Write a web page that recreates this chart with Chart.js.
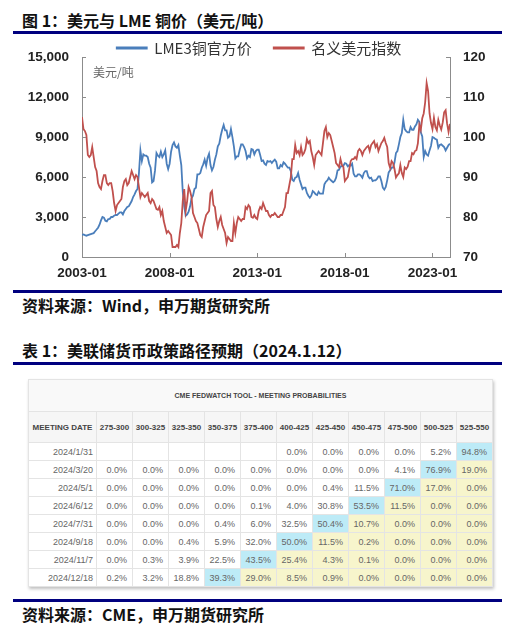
<!DOCTYPE html>
<html>
<head>
<meta charset="utf-8">
<script src="https://cdn.jsdelivr.net/npm/chart.js@4.4.1/dist/chart.umd.min.js"></script>
<style>
body{margin:0;width:518px;height:632px;background:#fff;position:relative;overflow:hidden;font-family:"Noto Sans CJK SC",sans-serif;}
.cap{position:absolute;left:22px;font-size:16px;line-height:16px;font-weight:700;color:#111;white-space:nowrap;}
.bar{position:absolute;left:13px;width:489px;height:3px;background:#00007f;}
#chartBox{position:absolute;left:0;top:36px;width:518px;height:250px;}
.unit{position:absolute;left:93px;top:66px;font-size:12px;line-height:12px;color:#666;}
#fw{position:absolute;left:28px;top:379px;width:464px;border-collapse:collapse;table-layout:fixed;font-family:"Liberation Sans",Arial,sans-serif;box-shadow:1px 2px 3px rgba(0,0,0,0.25);background:#fff;}
#fw td{border:1px solid #e4e4e4;padding:0 5px 0 0;text-align:right;font-size:9px;color:#666;height:17px;white-space:nowrap;overflow:hidden;}
#fw tr.t td{height:31px;text-align:center;font-weight:bold;font-size:7px;color:#444;background:#f9f9f9;padding:0;}
#fw tr.h td{height:30px;text-align:center;font-weight:bold;font-size:8px;color:#444;background:#f6f6f6;padding:0;}
#fw td.hi{background:#bdebf7;}
#fw td.cur{background:#f7f5cc;}
</style>
</head>
<body>
<div class="cap" style="top:12px">图 1：美元与 LME 铜价（美元/吨）</div>
<div class="bar" style="top:31px"></div>
<div id="chartBox"><canvas id="c" width="518" height="250"></canvas></div>
<div class="unit">美元/吨</div>
<div class="bar" style="top:290px"></div>
<div class="cap" style="top:297px">资料来源：Wind，申万期货研究所</div>
<div class="cap" style="top:342px">表 1：美联储货币政策路径预期（2024.1.12）</div>
<div class="bar" style="top:362px"></div>
<table id="fw"></table>
<div class="bar" style="top:599px"></div>
<div class="cap" style="top:606px">资料来源：CME，申万期货研究所</div>

<script>
// 月度数据，2003-01 起
const copper = [
  1650,1690,1640,1600,1640,1680,1720,1760,1790,1930,2060,2200,
  2420,2750,3000,2950,2720,2680,2850,2860,3010,3000,3100,3150,
  3150,3250,3350,3350,3200,3450,3600,3750,3800,4000,4200,4500,
  4700,4950,5100,6300,8000,7200,7700,7600,7600,7500,7000,6700,
  5600,5700,6500,7800,7600,7500,7900,7500,7700,8000,7000,6600,
  7000,7900,8400,8600,8300,8200,8400,7600,6900,4900,3800,3100,
  3200,3400,3800,4400,4600,5100,5200,6200,6200,6300,6700,6950,
  7300,6850,7450,7750,6900,6500,6750,7300,7700,8300,8500,9100,
  9550,9900,9500,9500,8950,9050,9600,9000,8300,7400,7550,7550,
  8050,8450,8450,8250,7950,7400,7600,7500,8100,8050,7700,7950,
  8050,8050,7650,7200,7250,7000,6900,7200,7150,7200,7050,7200,
  7300,7150,6650,6650,6900,6800,7100,7000,6850,6700,6700,6450,
  5800,5700,5950,6000,6300,5800,5450,5100,5200,5200,4800,4600,
  4450,4600,4950,4850,4700,4650,4900,4750,4750,4750,5450,5650,
  5750,5950,5800,5700,5600,5700,5950,6500,6550,6800,6800,6850,
  7050,7000,6800,6900,6850,7000,6250,6050,6050,6200,6200,6100,
  5950,6300,6450,6450,6050,5900,5950,5700,5750,5750,5850,6050,
  6050,5700,5200,5050,5250,5750,6350,6500,6700,6700,7100,7800,
  7950,8450,9000,9300,10300,9600,9450,9350,9350,9750,9550,9550,
  9800,9950,10300,10150,9350,9050,7500,7950,7700,7600,8000,8350,
  9000,8950,8850,8800,8200,8400,8450,8350,8250,8000,8200,8400,
  8500
];
const dxy = [
  105,102,101.5,100.5,95.5,95,95.5,97.5,95,92.5,91.5,88.5,
  87.5,87,89,90.5,90.5,88.5,88,88.5,88.5,86.5,83.5,81.5,
  83,83.5,84,84.5,87.5,89,89.5,88,88.5,90,91.5,90.5,
  89.5,90.5,90,87.5,85,86,85.5,85,85.5,86,84,83.5,
  84.5,84,83,82,81.8,82.5,80.5,81.5,79,77.5,76,76.5,
  76,75.5,72.5,72.5,72.5,73,72.5,76,78.5,84,87,81.5,
  84,87.5,86.5,85,81,80,79,78.5,77,75.5,75,77.5,
  79,80.5,81,81.5,86,86.5,83,82.5,79.5,77.5,79,80,
  78,77,76,73.5,75,74.5,74,74,78.5,76,78.5,80,
  79.5,79,79.5,79.5,82.5,82,83,82.5,80,79.8,80.5,79.8,
  79.5,81.5,82.5,82,83.5,82.5,81.5,81.5,80.5,80,80.5,80.5,
  81,80.5,80,80,80.5,80.5,81.5,82.5,86,86,88,90,
  94.5,94.5,98,96,96.5,95.5,97.5,95.5,96,97,99.5,98.5,
  99,96.5,95,93,95.5,96,96.5,96,95.5,98.5,101.5,102.5,
  100,101,100.5,99,97.5,96,93.5,93,92.5,94.5,93,92.5,
  89,89.5,90,92,94,94.5,94.5,95,94.5,96.5,97,96.5,
  95.5,96.5,97,97.5,97.8,96.5,98,98.5,99,97.5,98.2,96.5,
  97.5,98.5,99,99.8,98.5,97.5,93.5,92.3,94,93.5,92,89.9,
  90.5,90.9,93,91,90,92.4,92,92.6,94,94,96,95.7,
  96.5,96.7,98.4,103,101.8,104.7,105.9,108.7,113.5,111.5,105.9,103.5,
  102,104.8,102.5,101.7,104.3,102.9,101.9,103.6,106.2,106.7,103.4,101.3,
  103.3
];
const xTickMonths = [0, 60, 120, 180, 240];
const xTickLabels = ['2003-01', '2008-01', '2013-01', '2018-01', '2023-01'];

const rateBuckets = ['275-300','300-325','325-350','350-375','375-400','400-425','425-450','450-475','475-500','500-525','525-550'];
const meetingDates = ['2024/1/31','2024/3/20','2024/5/1','2024/6/12','2024/7/31','2024/9/18','2024/11/7','2024/12/18'];
const probs = [
  [null,null,null,null,null,0.0,0.0,0.0,0.0,5.2,94.8],
  [0.0,0.0,0.0,0.0,0.0,0.0,0.0,0.0,4.1,76.9,19.0],
  [0.0,0.0,0.0,0.0,0.0,0.0,0.4,11.5,71.0,17.0,0.0],
  [0.0,0.0,0.0,0.0,0.1,4.0,30.8,53.5,11.5,0.0,0.0],
  [0.0,0.0,0.0,0.4,6.0,32.5,50.4,10.7,0.0,0.0,0.0],
  [0.0,0.0,0.4,5.9,32.0,50.0,11.5,0.2,0.0,0.0,0.0],
  [0.0,0.3,3.9,22.5,43.5,25.4,4.3,0.1,0.0,0.0,0.0],
  [0.2,3.2,18.8,39.3,29.0,8.5,0.9,0.0,0.0,0.0,0.0]
];

const BLUE = '#4a7ebb';
const RED = '#c0504d';
const AXIS = '#8c8c8c';
const tickFont = {family: '"Liberation Sans", Arial, sans-serif', size: 13.5, weight: 'bold'};

// 刻度线朝内
const innerTicks = {
  id: 'innerTicks',
  afterDraw(chart) {
    const {ctx, chartArea: a, scales} = chart;
    ctx.save();
    ctx.strokeStyle = AXIS;
    ctx.lineWidth = 1;
    ctx.beginPath();
    scales.y.ticks.forEach(t => {
      const p = Math.round(scales.y.getPixelForValue(t.value)) + 0.5;
      ctx.moveTo(a.left, p); ctx.lineTo(a.left + 4, p);
    });
    scales.y1.ticks.forEach(t => {
      const p = Math.round(scales.y1.getPixelForValue(t.value)) + 0.5;
      ctx.moveTo(a.right - 4, p); ctx.lineTo(a.right, p);
    });
    scales.x.ticks.forEach(t => {
      const p = Math.round(scales.x.getPixelForValue(t.value)) + 0.5;
      ctx.moveTo(p, a.bottom); ctx.lineTo(p, a.bottom - 4);
    });
    ctx.stroke();
    ctx.restore();
  }
};

// 图例压在绘图区顶部
const legendOnTop = {
  id: 'legendOnTop',
  beforeLayout(chart) {
    const lg = chart.legend;
    if (lg && !lg._patched) {
      const fit = lg.fit.bind(lg);
      lg.fit = function () { fit(); this.height = 0; };
      lg._patched = true;
    }
  },
  beforeDraw(chart) {
    const lg = chart.legend;
    lg.left = 0;
    lg.right = chart.width;
    lg.top = 12 - 7.5 - 22;
    lg.bottom = lg.top + 40;
  }
};

new Chart(document.getElementById('c').getContext('2d'), {
  type: 'line',
  data: {
    datasets: [{
      label: 'LME3铜官方价',
      data: copper.map((v, i) => ({x: i, y: v})),
      yAxisID: 'y',
      borderColor: BLUE,
      backgroundColor: BLUE,
      borderWidth: 1.8,
      pointRadius: 0,
      order: 2
    }, {
      label: '名义美元指数',
      data: dxy.map((v, i) => ({x: i, y: v})),
      yAxisID: 'y1',
      borderColor: RED,
      backgroundColor: RED,
      borderWidth: 1.8,
      pointRadius: 0,
      order: 1
    }]
  },
  options: {
    responsive: false,
    animation: false,
    layout: {padding: {top: 14, left: 0, right: 0, bottom: 0}},
    plugins: {
      legend: {
        position: 'top',
        labels: {
          boxWidth: 30,
          boxHeight: 1,
          padding: 22,
          color: '#333',
          font: {family: '"Noto Sans CJK SC", sans-serif', size: 15},
          sort: (a, b) => a.datasetIndex - b.datasetIndex
        }
      },
      tooltip: {enabled: false}
    },
    scales: {
      x: {
        type: 'linear',
        min: 0,
        max: copper.length - 1,
        afterBuildTicks: s => { s.ticks = xTickMonths.map(v => ({value: v})); },
        afterFit: s => { s.height = 29; },
        ticks: {
          callback: v => xTickLabels[xTickMonths.indexOf(v)] || '',
          padding: 8,
          maxRotation: 0,
          autoSkip: false,
          color: '#222',
          font: tickFont
        },
        grid: {drawOnChartArea: false, drawTicks: false},
        border: {color: AXIS}
      },
      y: {
        position: 'left',
        min: 0,
        max: 15000,
        afterFit: s => { s.width = 82; },
        ticks: {
          stepSize: 3000,
          padding: 13,
          color: '#222',
          font: tickFont,
          callback: v => v.toLocaleString('en-US')
        },
        grid: {drawOnChartArea: false, drawTicks: false},
        border: {color: AXIS}
      },
      y1: {
        position: 'right',
        min: 70,
        max: 120,
        afterFit: s => { s.width = 68; },
        ticks: {stepSize: 10, padding: 13, color: '#222', font: tickFont},
        grid: {drawOnChartArea: false, drawTicks: false},
        border: {color: AXIS}
      }
    }
  },
  plugins: [innerTicks, legendOnTop]
});

// CME 概率表
let html = '<colgroup><col style="width:68px">' + rateBuckets.map(() => '<col style="width:36px">').join('') + '</colgroup>';
html += '<tr class="t"><td colspan="12">CME FEDWATCH TOOL - MEETING PROBABILITIES</td></tr>';
html += '<tr class="h"><td>MEETING DATE</td>' + rateBuckets.map(b => '<td>' + b + '</td>').join('') + '</tr>';
probs.forEach((row, r) => {
  const top = Math.max(...row.filter(v => v !== null));
  const m = row.indexOf(top);
  html += '<tr class="d"><td style="padding-right:3px">' + meetingDates[r] + '</td>' +
    row.map((v, i) => '<td class="' + (i === m ? 'hi' : (i > m ? 'cur' : '')) + '">' +
      (v === null ? '' : v.toFixed(1) + '%') + '</td>').join('') + '</tr>';
});
document.getElementById('fw').innerHTML = html;
</script>
</body>
</html>
